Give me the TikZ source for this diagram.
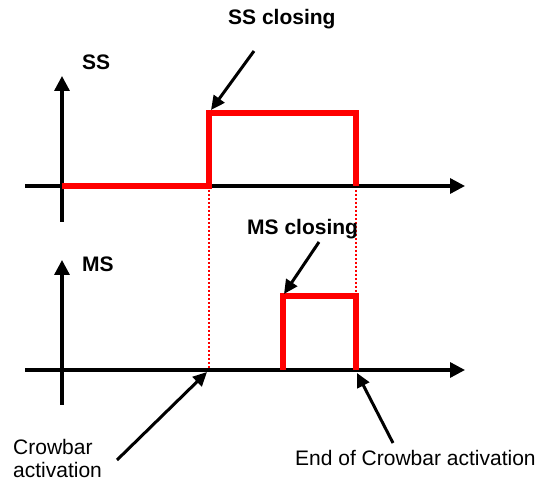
\documentclass[tikz,border=0pt]{standalone}
\usepackage{fontspec}
\setmainfont{Liberation Sans}
\usetikzlibrary{arrows.meta}
\begin{document}
\begin{tikzpicture}[x=1pt,y=-1pt,
  axis/.style={line width=3.3pt, -{Triangle[length=15pt,width=15pt]}},
  sig/.style={red, line width=6pt, line join=miter},
  guide/.style={red, line width=2.2pt, dash pattern=on 2.2pt off 1.8pt},
  note/.style={line width=3pt, -{Triangle[length=14pt,width=13pt]}},
  lbl/.style={font=\fontsize{21}{23}\selectfont, inner sep=0pt, align=left},
  blbl/.style={font=\fontsize{21}{24}\selectfont\bfseries, inner sep=0pt}]
\useasboundingbox (0,0) rectangle (539,481);
% coordinates
\coordinate (sxL) at (25,186); \coordinate (sxR) at (465,186);
\coordinate (syB) at (62,222); \coordinate (syT) at (62,76);
\coordinate (mxL) at (25,370); \coordinate (mxR) at (465,370);
\coordinate (myB) at (62,405); \coordinate (myT) at (62,260);
\coordinate (s0) at (62,186); \coordinate (s1) at (209,186);
\coordinate (s2) at (209,113); \coordinate (s3) at (356,113);
\coordinate (s4) at (356,186);
\coordinate (m1) at (283,370); \coordinate (m2) at (283,296);
\coordinate (m3) at (356,296); \coordinate (m4) at (356,370);
\coordinate (c1) at (209,370);
% guides
\draw[guide] (s1) -- (c1);
\draw[guide] (s4) -- (m4);
% axes
\draw[axis] (sxL) -- (sxR);
\draw[axis] (syB) -- (syT);
\draw[axis] (mxL) -- (mxR);
\draw[axis] (myB) -- (myT);
% signals
\draw[sig] (s0) -- (s1) -- (s2) -- (s3) -- (s4);
\draw[sig] (m1) -- (m2) -- (m3) -- (m4);
% labels
\node[blbl, anchor=base west] (ss) at (82,70) {SS};
\node[blbl, anchor=base west] (ms) at (82,272) {MS};
\node[blbl, anchor=base west] (ssc) at (228,25) {SS closing};
\node[blbl, anchor=base west] (msc) at (247,235) {MS closing};
\node[lbl, anchor=base west] (cb) at (13,478) {Crowbar\\activation};
\node[lbl, anchor=base west] (ecb) at (295,465) {End of Crowbar activation};
% annotation arrows
\coordinate (a1s) at (254,51); \coordinate (a1e) at (211,110);
\coordinate (a2s) at (319,242); \coordinate (a2e) at (284,294);
\coordinate (a3s) at (117,460); \coordinate (a3e) at (207,372);
\coordinate (a4s) at (393,443); \coordinate (a4e) at (357,373);
\draw[note] (a1s) -- (a1e);
\draw[note] (a2s) -- (a2e);
\draw[note] (a3s) -- (a3e);
\draw[note] (a4s) -- (a4e);
\end{tikzpicture}
\end{document}
